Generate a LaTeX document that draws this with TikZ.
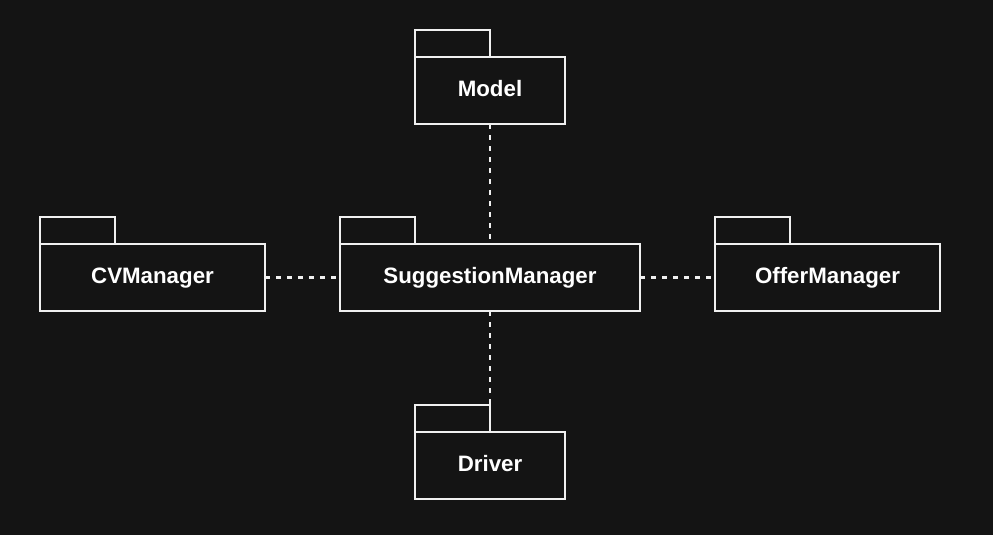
\documentclass[tikz,border=0pt]{standalone}
\usepackage{fontspec}
\setmainfont{Liberation Sans}
\definecolor{bg}{HTML}{141414}
\definecolor{ln}{HTML}{F0F0F0}
\begin{document}
\begin{tikzpicture}[x=1pt,y=-1pt,
  pkgbox/.style={draw=ln,line width=1.8pt,fill=bg,minimum height=67pt,inner sep=0pt,outer sep=0pt,
    text=white,font=\fontsize{22.3}{25}\selectfont\bfseries,text height=16pt,text depth=4.4pt},
  pkgtab/.style={draw=ln,line width=1.8pt,minimum width=75pt,minimum height=27pt,inner sep=0pt,outer sep=0pt,anchor=south west},
  dep/.style={draw=ln,line width=2.2pt,dash pattern=on 5pt off 6pt}]
\fill[bg] (0,0) rectangle (993,535);
\useasboundingbox (0,0) rectangle (993,535);
\node[pkgbox,minimum width=150pt] (model) at (490,90.5) {Model};
\node[pkgtab] (modeltab) at (model.north west) {};
\node[pkgbox,minimum width=225pt] (cv) at (152.5,277.5) {CVManager};
\node[pkgtab] (cvtab) at (cv.north west) {};
\node[pkgbox,minimum width=300pt] (sm) at (490,277.5) {SuggestionManager};
\node[pkgtab] (smtab) at (sm.north west) {};
\node[pkgbox,minimum width=225pt] (offer) at (827.5,277.5) {OfferManager};
\node[pkgtab] (offertab) at (offer.north west) {};
\node[pkgbox,minimum width=150pt] (driver) at (490,465.5) {Driver};
\node[pkgtab] (drivertab) at (driver.north west) {};
\draw[dep] (model.south) -- (sm.north);
\draw[dep] (cv.east) -- (sm.west);
\draw[dep] (sm.east) -- (offer.west);
\draw[dep] (sm.south) -- (drivertab.north east);
\end{tikzpicture}
\end{document}
